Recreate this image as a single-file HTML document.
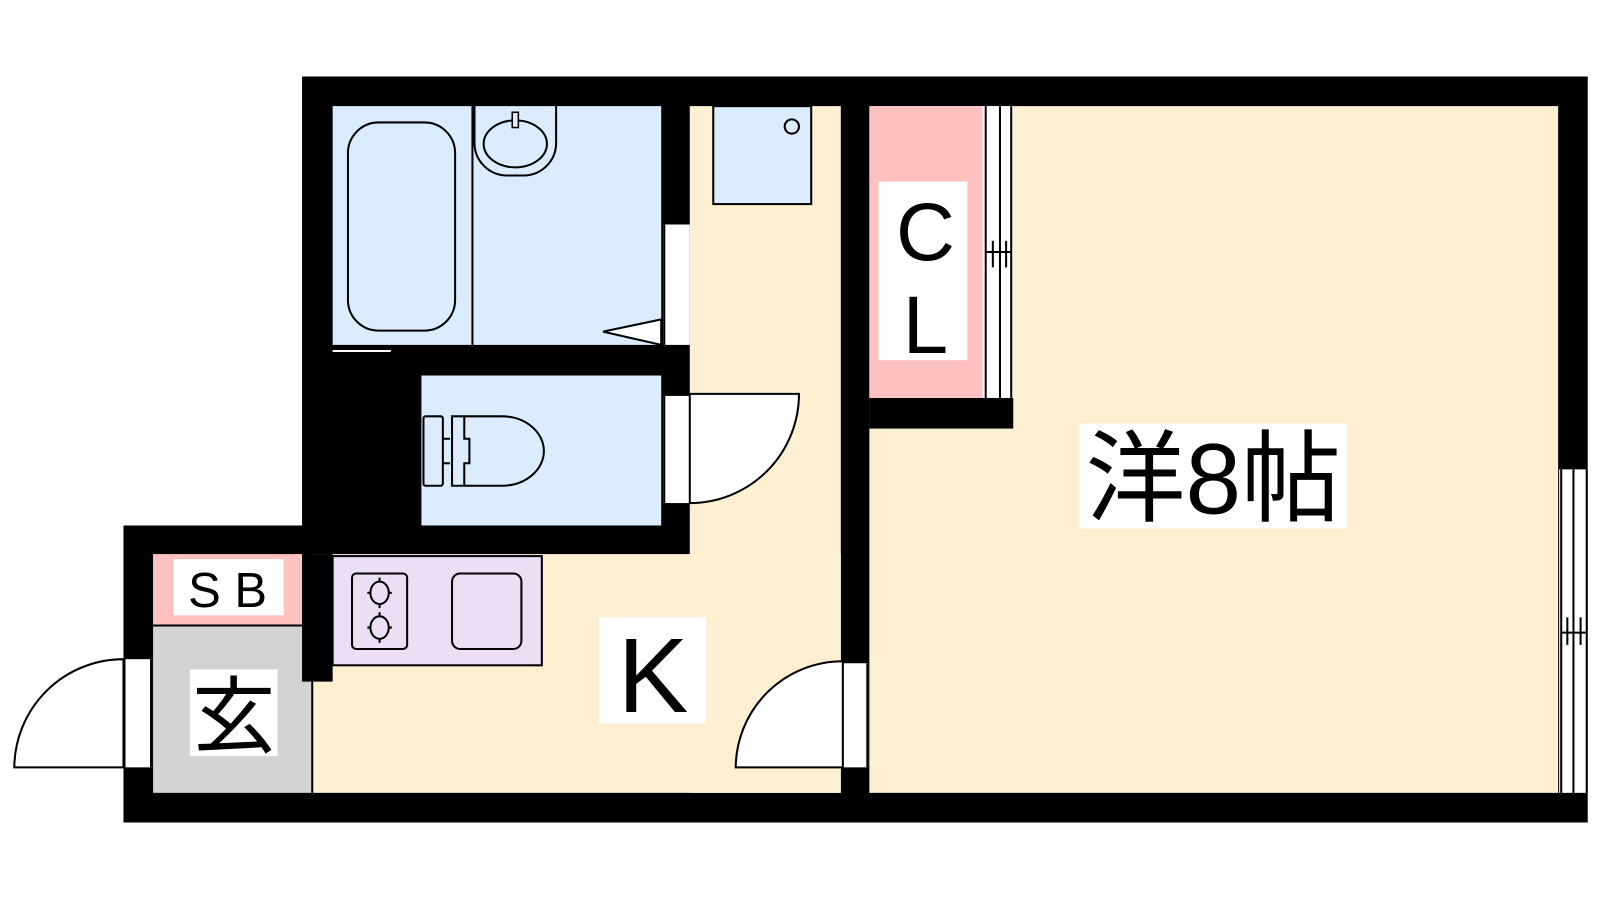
<!DOCTYPE html>
<html><head><meta charset="utf-8"><style>
html,body{margin:0;padding:0;background:#fff;}
svg{display:block;}
text{font-family:"Liberation Sans","Noto Sans CJK JP",sans-serif;}
</style></head><body>
<svg width="1600" height="900" viewBox="0 0 1600 900" xmlns="http://www.w3.org/2000/svg">
<rect width="1600" height="900" fill="#fff"/>
<g transform="scale(1.0204)">
<polygon points="296,75 1556,75 1556,806 121,806 121,515 296,515" fill="#000"/>
<rect x="852" y="104" width="675" height="673" fill="#fdf0d2"/>
<rect x="852" y="390" width="141" height="30" fill="#000"/>
<rect x="852" y="104" width="111" height="286" fill="#ffc0c0"/>
<rect x="963" y="104" width="30" height="286" fill="#fff"/>
<g stroke="#000" stroke-width="2" fill="none">
<line x1="966" y1="104" x2="966" y2="390"/><line x1="980" y1="104" x2="980" y2="390"/><line x1="991" y1="104" x2="991" y2="390"/>
<line x1="973" y1="236" x2="973" y2="262"/><line x1="986" y1="236" x2="986" y2="262"/><line x1="966" y1="247" x2="991" y2="247"/>
</g>
<rect x="861" y="178" width="87" height="175" fill="#fff"/>
<text x="907" y="255" font-size="80" text-anchor="middle">C</text>
<text x="907" y="346" font-size="80" text-anchor="middle">L</text>
<rect x="1528" y="460" width="28" height="317" fill="#fff"/>
<g stroke="#000" stroke-width="2">
<line x1="1530" y1="460" x2="1530" y2="777"/><line x1="1542" y1="460" x2="1542" y2="777"/><line x1="1555" y1="460" x2="1555" y2="777"/>
<line x1="1536" y1="605" x2="1536" y2="632"/><line x1="1549" y1="605" x2="1549" y2="632"/><line x1="1530" y1="620" x2="1555" y2="620"/>
</g>
<rect x="1058" y="415" width="262" height="103" fill="#fff"/>
<text x="1189" y="503" font-size="98" text-anchor="middle">洋8帖</text>
<rect x="676" y="104" width="148" height="673" fill="#fdf0d2"/>
<rect x="306" y="543" width="518" height="234" fill="#fdf0d2"/>
<rect x="699" y="104" width="96" height="96" fill="#dbecff" stroke="#000" stroke-width="2"/>
<circle cx="776" cy="124" r="7" fill="none" stroke="#000" stroke-width="2"/>
<rect x="326" y="104" width="322" height="234" fill="#dbecff"/>
<line x1="463" y1="104" x2="463" y2="338" stroke="#000" stroke-width="2"/>
<rect x="341" y="120" width="105" height="204" rx="30" fill="none" stroke="#000" stroke-width="2"/>
<path d="M465,104 V140 A32,32 0 0 0 497,172 H513 A32,32 0 0 0 545,140 V104" fill="none" stroke="#000" stroke-width="2"/>
<ellipse cx="505" cy="141" rx="31" ry="23" fill="none" stroke="#000" stroke-width="2"/>
<rect x="502" y="110" width="6" height="15" fill="#dbecff" stroke="#000" stroke-width="1.5"/>
<line x1="326" y1="344" x2="383" y2="344" stroke="#fff" stroke-width="2"/>
<rect x="650" y="220" width="26" height="118" fill="#fff"/>
<line x1="651" y1="220" x2="651" y2="338" stroke="#000" stroke-width="2"/>
<polygon points="648,313 591,325 648,338" fill="#fff" stroke="#000" stroke-width="2"/>
<rect x="413" y="368" width="235" height="147" fill="#dbecff"/>
<rect x="650" y="388" width="26" height="105" fill="#fff"/>
<line x1="651" y1="388" x2="651" y2="493" stroke="#000" stroke-width="2"/>
<path d="M676,386 H783 A107,107 0 0 1 676,493 Z" fill="#fff" stroke="#000" stroke-width="2"/>
<g fill="none" stroke="#000" stroke-width="2">
<rect x="415" y="408" width="19" height="68" rx="2"/>
<line x1="434" y1="430" x2="441" y2="430"/><line x1="434" y1="454" x2="441" y2="454"/>
<path d="M443,408 H492 A41,34 0 0 1 492,476 H443 Z"/>
<path d="M455,408 V430 H460 V454 H455 V476"/>
</g>
<rect x="150" y="543" width="146" height="70" fill="#ffc0c0"/>
<rect x="150" y="613" width="156" height="164" fill="#d3d3d3"/>
<line x1="150" y1="613" x2="296" y2="613" stroke="#000" stroke-width="2"/>
<line x1="306" y1="668" x2="306" y2="777" stroke="#000" stroke-width="2"/>
<rect x="296" y="543" width="30" height="125" fill="#000"/>
<rect x="170" y="548" width="108" height="55" fill="#fff"/>
<text x="223" y="595" font-size="48" text-anchor="middle">S B</text>
<rect x="186" y="656" width="86" height="85" fill="#fff"/>
<text x="229" y="731" font-size="82" text-anchor="middle">玄</text>
<rect x="326" y="545" width="205" height="107" fill="#ecdff5" stroke="#000" stroke-width="2"/>
<rect x="345" y="562" width="54" height="74" rx="4" fill="none" stroke="#000" stroke-width="2"/>
<rect x="443" y="562" width="68" height="74" rx="8" fill="none" stroke="#000" stroke-width="2"/>
<g fill="none" stroke="#000" stroke-width="2">
<line x1="372" y1="566" x2="372" y2="596"/><line x1="360" y1="581" x2="384" y2="581"/>
<line x1="372" y1="600" x2="372" y2="630"/><line x1="360" y1="615" x2="384" y2="615"/>
</g>
<g fill="#ecdff5" stroke="#000" stroke-width="2"><ellipse cx="372" cy="581" rx="9" ry="11"/><ellipse cx="372" cy="615" rx="9" ry="11"/></g>
<rect x="587" y="605" width="105" height="104" fill="#fff"/>
<text x="640" y="698" font-size="104" text-anchor="middle">K</text>
<rect x="123" y="646" width="26" height="106" fill="#fff"/>
<line x1="148" y1="646" x2="148" y2="752" stroke="#000" stroke-width="2"/>
<path d="M121,752 H14 A107,107 0 0 1 121,646 Z" fill="#fff" stroke="#000" stroke-width="2"/>
<rect x="825" y="650" width="26" height="102" fill="#fff"/>
<line x1="850" y1="650" x2="850" y2="752" stroke="#000" stroke-width="2"/>
<path d="M826,752 H721 A105,105 0 0 1 826,648 Z" fill="#fff" stroke="#000" stroke-width="2"/>
</g>
</svg>
</body></html>
